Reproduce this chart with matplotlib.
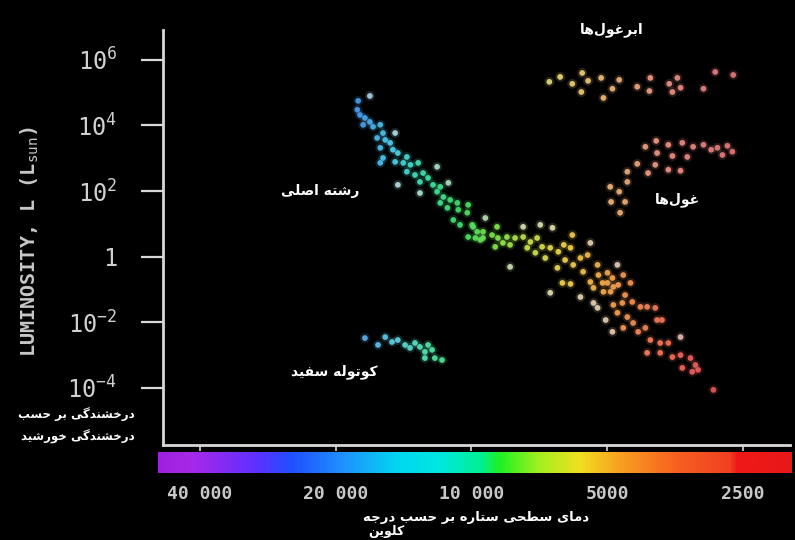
import numpy as np
import matplotlib
matplotlib.use("Agg")
import matplotlib.pyplot as plt
from matplotlib.colors import LinearSegmentedColormap

# ---- data (log10 T [K], log10 L [L_sun]) ----
ms_logT = [4.251, 4.253, 4.247, 4.236, 4.225, 4.240, 4.218, 4.202, 4.196, 4.209, 4.191, 4.180, 4.202, 4.174, 4.163,
           4.143, 4.196, 4.202, 4.169, 4.151, 4.135, 4.118, 4.143, 4.125, 4.107, 4.096, 4.114, 4.085, 4.069, 4.076,
           4.062, 4.047, 4.031, 4.069, 4.007, 4.053, 4.029, 4.009, 4.040, 4.025, 3.998, 3.987, 4.007, 3.974, 3.980,
           3.996, 3.991, 3.974, 3.954, 3.943, 3.941, 3.930, 3.914, 3.947, 3.921, 3.903, 3.885, 3.876, 3.869, 3.854,
           3.843, 3.858, 3.825, 3.836, 3.807, 3.795, 3.780, 3.776, 3.792, 3.809, 3.774, 3.758, 3.742, 3.752, 3.720,
           3.718, 3.736, 3.709, 3.698, 3.687, 3.674, 3.663, 3.707, 3.691, 3.780, 3.798, 3.659,
           3.698, 3.729, 3.685, 3.647, 3.685, 3.665, 3.643, 3.625, 3.676, 3.654, 3.641, 3.610, 3.592, 3.663, 3.630,
           3.614, 3.588, 3.577, 3.603, 3.581, 3.563, 3.610, 3.581, 3.554, 3.536, 3.514, 3.503, 3.532, 3.510, 3.497,
           3.463]
ms_logL = [4.75, 4.48, 4.32, 4.23, 4.11, 4.02, 3.96, 4.02, 3.77, 3.62, 3.56, 3.47, 3.32, 3.26, 3.16,
           3.04, 3.01, 2.86, 2.89, 2.86, 2.80, 2.86, 2.59, 2.49, 2.55, 2.40, 2.28, 2.19, 2.13, 1.98,
           1.82, 1.73, 1.64, 1.64, 1.58, 1.49, 1.43, 1.34, 1.12, 0.97, 0.97, 0.76, 0.60, 0.76, 0.51,
           0.91, 0.57, 0.57, 0.66, 0.91, 0.57, 0.42, 0.36, 0.30, 0.60, 0.57, 0.60, 0.27, 0.45, 0.57,
           0.30, 0.12, 0.27, -0.04, 0.15, 0.36, 0.27, 0.66, -0.10, -0.34, -0.25, -0.04, 0.05, -0.46, -0.25,
           -0.56, -0.77, -0.80, -0.49, -0.65, -0.86, -0.56, -1.07, -1.07, -0.83, -0.80, -1.17,
           -0.80, -0.95, -0.92, -0.80, -1.47, -1.41, -1.38, -1.53, -1.71, -1.84, -2.02, -1.53, -1.56, -2.17, -2.29,
           -2.17, -1.93, -1.93, -2.54, -2.63, -2.63, -2.93, -2.93, -3.06, -3.00, -3.09, -3.30, -3.39, -3.51, -3.45,
           -4.06]

# whitish stars scattered around the main sequence
pale_logT = [4.225, 4.169, 4.076, 4.163, 4.051, 4.114, 3.969, 3.885, 3.847, 3.820,
             3.736, 3.676, 3.914, 3.825, 3.758, 3.729, 3.720, 3.702, 3.687, 3.536]
pale_logL = [4.90, 3.77, 2.74, 2.19, 2.25, 1.94, 1.18, 0.91, 0.97, 0.88,
             0.42, -0.25, -0.31, -1.10, -1.23, -1.41, -1.56, -1.93, -2.29, -2.45]

sg_logT = [3.827, 3.803, 3.776, 3.756, 3.754, 3.741, 3.712, 3.687, 3.707, 3.672,
           3.632, 3.603, 3.605, 3.561, 3.543, 3.536, 3.554, 3.485, 3.459, 3.419]
sg_logL = [5.33, 5.48, 5.27, 5.02, 5.60, 5.36, 5.45, 5.12, 4.84, 5.39,
           5.18, 5.45, 5.05, 5.27, 5.45, 5.15, 5.02, 5.12, 5.63, 5.54]

g_logT = [3.590, 3.614, 3.563, 3.532, 3.508, 3.485, 3.588, 3.554, 3.521, 3.632, 3.592, 3.563, 3.536,
          3.608, 3.654, 3.654, 3.692, 3.672, 3.690, 3.659, 3.670, 3.454, 3.432, 3.421, 3.443, 3.468]
g_logL = [3.53, 3.35, 3.41, 3.47, 3.35, 3.41, 3.16, 3.07, 3.04, 2.83, 2.80, 2.65, 2.62,
          2.55, 2.59, 2.28, 2.13, 1.98, 1.67, 1.67, 1.34, 3.32, 3.38, 3.20, 3.10, 3.26]

wd_logT = [4.236, 4.207, 4.191, 4.176, 4.163, 4.147, 4.136, 4.125, 4.114, 4.103, 4.096, 4.087, 4.081, 4.065, 4.103]
wd_logL = [-2.48, -2.69, -2.45, -2.60, -2.54, -2.69, -2.78, -2.63, -2.75, -2.90, -2.69, -2.84, -3.09, -3.15, -3.09]

temp_ticks = [40000, 20000, 10000, 5000, 2500]
temp_labels = ["40 000", "20 000", "10 000", "5000", "2500"]
lum_ticks = [1e6, 1e4, 1e2, 1, 1e-2, 1e-4]
lum_labels = [r"$\mathtt{10^{6}}$", r"$\mathtt{10^{4}}$", r"$\mathtt{10^{2}}$", r"$\mathtt{1}$",
              r"$\mathtt{10^{-2}}$", r"$\mathtt{10^{-4}}$"]

# star colour vs log T
star_stops = [(3.40, "#e03c3c"), (3.50, "#e85050"), (3.60, "#f07450"), (3.70, "#f2a040"),
              (3.80, "#ecd040"), (3.88, "#c0e040"), (3.95, "#70e040"), (4.03, "#30d860"),
              (4.10, "#30e0a0"), (4.18, "#40c8e8"), (4.26, "#3a8ce8")]
# colour strip under the axis
strip_stops = [(0.0, "#a020e0"), (0.05, "#a828e8"), (0.15, "#6030ff"), (0.21, "#2050ff"),
               (0.29, "#2090ff"), (0.38, "#00d8f0"), (0.445, "#00e8e0"), (0.51, "#00f090"),
               (0.54, "#20f020"), (0.60, "#a0f020"), (0.665, "#f0e020"), (0.73, "#f8a020"),
               (0.82, "#f86020"), (0.905, "#f04020"), (0.915, "#f01818"), (1.0, "#e81818")]

# ---- minimal Persian shaping (presentation forms, visual order) ----
FORMS = {
    'ا': ('\uFE8D', '\uFE8E'), 'د': ('\uFEA9', '\uFEAA'), 'ر': ('\uFEAD', '\uFEAE'), 'و': ('\uFEED', '\uFEEE'),
    'ب': ('\uFE8F', '\uFE90', '\uFE91', '\uFE92'), 'ت': ('\uFE95', '\uFE96', '\uFE97', '\uFE98'),
    'ج': ('\uFE9D', '\uFE9E', '\uFE9F', '\uFEA0'), 'ح': ('\uFEA1', '\uFEA2', '\uFEA3', '\uFEA4'),
    'خ': ('\uFEA5', '\uFEA6', '\uFEA7', '\uFEA8'), 'س': ('\uFEB1', '\uFEB2', '\uFEB3', '\uFEB4'),
    'ش': ('\uFEB5', '\uFEB6', '\uFEB7', '\uFEB8'), 'ص': ('\uFEB9', '\uFEBA', '\uFEBB', '\uFEBC'),
    'ط': ('\uFEC1', '\uFEC2', '\uFEC3', '\uFEC4'), 'غ': ('\uFECD', '\uFECE', '\uFECF', '\uFED0'),
    'ف': ('\uFED1', '\uFED2', '\uFED3', '\uFED4'), 'ل': ('\uFEDD', '\uFEDE', '\uFEDF', '\uFEE0'),
    'م': ('\uFEE1', '\uFEE2', '\uFEE3', '\uFEE4'), 'ن': ('\uFEE5', '\uFEE6', '\uFEE7', '\uFEE8'),
    'ه': ('\uFEE9', '\uFEEA', '\uFEEB', '\uFEEC'), 'ی': ('\uFBFC', '\uFBFD', '\uFBFE', '\uFBFF'),
    'ک': ('\uFB8E', '\uFB8F', '\uFB90', '\uFB91'), 'گ': ('\uFB92', '\uFB93', '\uFB94', '\uFB95'),
}


def fa(text):
    out = []
    for i, c in enumerate(text):
        if c not in FORMS:
            out.append(c)
            continue
        prev = text[i - 1] if i > 0 else ''
        nxt = text[i + 1] if i + 1 < len(text) else ''
        p = prev in FORMS and len(FORMS[prev]) == 4
        q = len(FORMS[c]) == 4 and nxt in FORMS
        f = FORMS[c]
        out.append(f[3] if p and q else f[1] if p else f[2] if q else f[0])
    return ''.join(out).replace('\u200c', '')[::-1]


t_lo, t_hi = star_stops[0][0], star_stops[-1][0]
stops_norm = [(t - t_lo) / (t_hi - t_lo) for t, c in star_stops]
stops_norm[0], stops_norm[-1] = 0.0, 1.0
cmap = LinearSegmentedColormap.from_list("stars", list(zip(stops_norm, [c for t, c in star_stops])))


def star_colors(logT, fade=0.0, grey=(0.85, 0.85, 0.85)):
    v = np.clip((np.array(logT) - t_lo) / (t_hi - t_lo), 0, 1)
    cols = cmap(v)[:, :3]
    return cols * (1 - fade) + np.array(grey) * fade


fig = plt.figure(figsize=(7.95, 5.4), dpi=100, facecolor="black")
ax = fig.add_axes([163 / 795, 95 / 540, 627 / 795, 415 / 540], facecolor="black")


def stars(logT, logL, cols, s=17):
    T = 10 ** np.array(logT)
    L = 10 ** np.array(logL)
    ax.scatter(T, L, s=s * 3.0, color=cols, alpha=0.18, linewidths=0, zorder=2)
    ax.scatter(T, L, s=s, color=cols, alpha=0.95, linewidths=0, zorder=3)


stars(ms_logT, ms_logL, star_colors(ms_logT, 0.08))
stars(pale_logT, pale_logL, star_colors(pale_logT, 0.7))
stars(sg_logT, sg_logL, star_colors(sg_logT, 0.35))
stars(g_logT, g_logL, star_colors(g_logT, 0.35))
stars(wd_logT, wd_logL, star_colors(wd_logT, 0.2))

ax.set_xscale("log")
ax.set_yscale("log")
ax.set_xlim(48300, 1964)
ax.set_ylim(10 ** -5.74, 10 ** 6.91)
ax.minorticks_off()
ax.set_xticks(temp_ticks)
ax.set_xticklabels(temp_labels, family="DejaVu Sans Mono", fontweight="bold", fontsize=13, color="#c8c8c8")
ax.set_yticks(lum_ticks)
ax.set_yticklabels(lum_labels, fontsize=17, color="#d0d0d0")
ax.tick_params(axis="y", length=16, width=1.6, color="#d8d8d8", pad=17)
ax.tick_params(axis="x", length=4, width=1.2, color="#d8d8d8", pad=25)
for side in ["top", "right"]:
    ax.spines[side].set_visible(False)
for side in ["left", "bottom"]:
    ax.spines[side].set_color("#d8d8d8")
    ax.spines[side].set_linewidth(2)

# rainbow strip below the temperature axis
sax = fig.add_axes([158 / 795, 67 / 540, 634 / 795, 21 / 540])
strip = LinearSegmentedColormap.from_list("strip", strip_stops)
sax.imshow(np.linspace(0, 1, 400)[None, :], aspect="auto", cmap=strip, interpolation="bilinear")
sax.axis("off")

# texts
fig.text(30 / 795, 0.552, r"LUMINOSITY, L (L$_{\mathtt{sun}}$)", rotation=90, ha="center", va="center",
         family="DejaVu Sans Mono", fontweight="bold", fontsize=14.5, color="#c8c8c8")
lab = dict(color="white", fontsize=10, fontweight="bold", family="DejaVu Sans", ha="center", va="center")
fig.text(612 / 795, 1 - 30 / 540, fa("ابرغول\u200cها"), **lab)
fig.text(677 / 795, 1 - 200 / 540, fa("غول\u200cها"), **lab)
fig.text(320 / 795, 1 - 191 / 540, fa("رشته اصلی"), **lab)
fig.text(334 / 795, 1 - 372 / 540, fa("کوتوله سفید"), **lab)
small = dict(color="white", fontsize=8.5, fontweight="bold", family="DejaVu Sans", ha="right", va="center")
fig.text(135 / 795, 1 - 414 / 540, fa("درخشندگی بر حسب"), **small)
fig.text(135 / 795, 1 - 437 / 540, fa("درخشندگی خورشید"), **small)
fig.text(476 / 795, 1 - 518 / 540, fa("دمای سطحی ستاره بر حسب درجه"), color="white", fontsize=9.5,
         fontweight="bold", ha="center", va="center")
fig.text(368 / 795, 1 - 531 / 540, fa("کلوین"), color="white", fontsize=9, fontweight="bold",
         ha="left", va="center")

fig.savefig("out.png", dpi=100, facecolor="black")
